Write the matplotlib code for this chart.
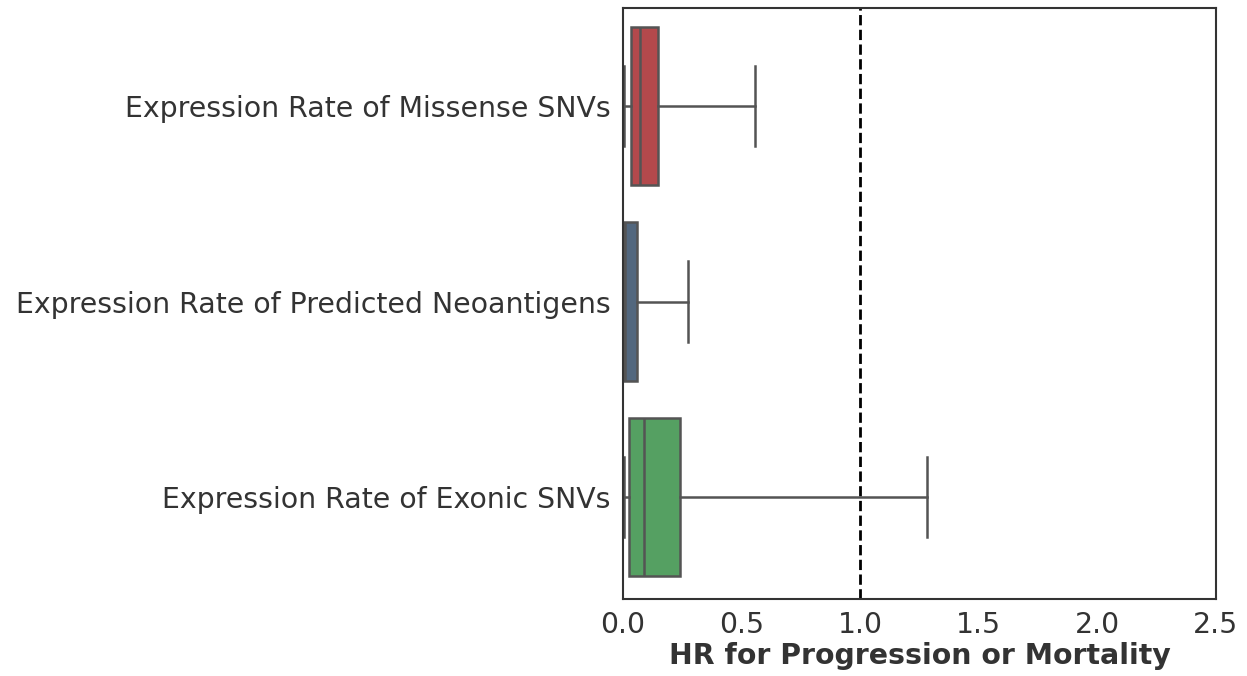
# -*- coding: utf-8 -*-

# imports
import matplotlib
matplotlib.use('Agg')
import matplotlib.pyplot as plt

################################################################################

# box summary for each feature (HR values)
features = ['Expression Rate of Missense SNVs',
            'Expression Rate of Predicted Neoantigens',
            'Expression Rate of Exonic SNVs']
whisker_low = [0.004, 0.002, 0.003]
quartile_1 = [0.034, 0.003, 0.027]
medians = [0.072, 0.010, 0.089]
quartile_3 = [0.148, 0.060, 0.240]
whisker_high = [0.557, 0.274, 1.280]
box_colors = ['#b3494c', '#52677e', '#55a062']

line_color = '#545454'
text_color = '#333333'

################################################################################

def build_stats():
    stats = []
    for i in range(len(features)):
        stats.append({
            'label': features[i],
            'whislo': whisker_low[i],
            'q1': quartile_1[i],
            'med': medians[i],
            'q3': quartile_3[i],
            'whishi': whisker_high[i],
            'fliers': [],
        })
    return stats

################################################################################

if __name__ == "__main__":

    plt.rcParams['font.family'] = ['DejaVu Sans']
    fig = plt.figure(figsize=(12.47, 6.76), dpi=100)
    ax = fig.add_axes([0.4996, 0.114, 0.4755, 0.874])

    positions = list(range(len(features)))
    bp = ax.bxp(build_stats(), positions=positions, vert=False, widths=0.81,
                patch_artist=True, showfliers=False, capwidths=0.41,
                boxprops=dict(edgecolor=line_color, linewidth=1.8),
                medianprops=dict(color=line_color, linewidth=1.8),
                whiskerprops=dict(color=line_color, linewidth=1.8),
                capprops=dict(color=line_color, linewidth=1.8))
    for patch, col in zip(bp['boxes'], box_colors):
        patch.set_facecolor(col)

    # reference line at HR = 1
    ax.axvline(1.0, color='black', linestyle='--', linewidth=2.0, zorder=0)

    ax.set_xlim(0, 2.5)
    ax.set_ylim(2.52, -0.5)
    ax.set_xticks([0.0, 0.5, 1.0, 1.5, 2.0, 2.5])
    ax.set_xticklabels(['0.0', '0.5', '1.0', '1.5', '2.0', '2.5'])
    ax.set_yticks(positions)
    ax.set_yticklabels(features)
    ax.tick_params(axis='y', length=0, pad=9, labelsize=20.4,
                   labelcolor=text_color)
    ax.tick_params(axis='x', length=0, pad=9, labelsize=20.4,
                   labelcolor=text_color)
    ax.set_xlabel('HR for Progression or Mortality', fontsize=20.4,
                  fontweight='bold', color=text_color, labelpad=2)

    for spine in ax.spines.values():
        spine.set_color(text_color)
        spine.set_linewidth(1.5)

    fig.savefig('out.png', dpi=100)
